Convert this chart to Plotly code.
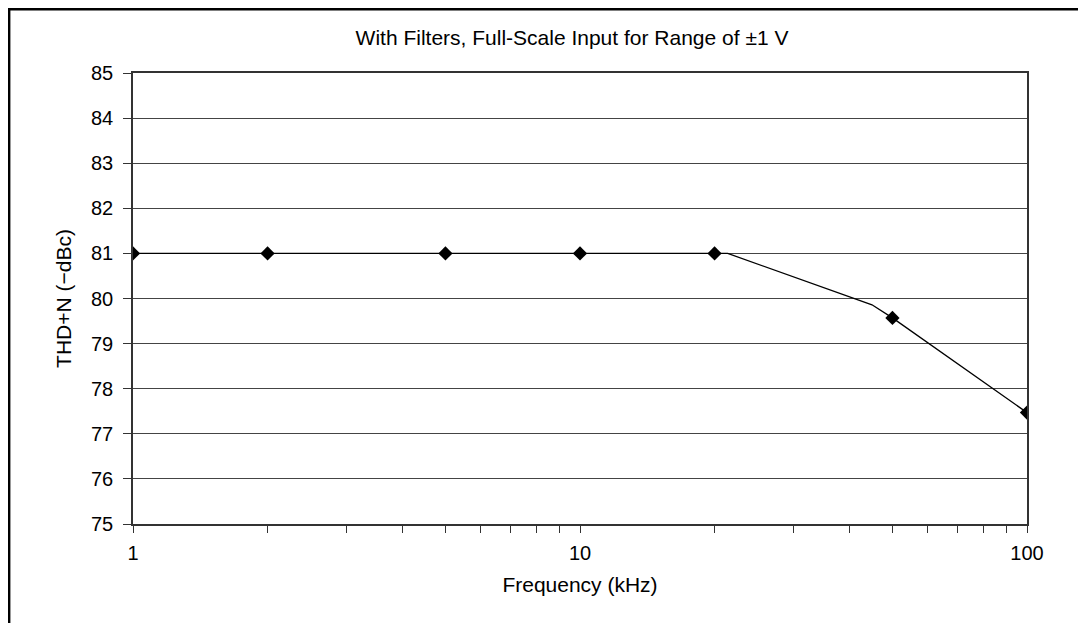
import plotly.graph_objects as go

# Measured points (markers)
freq_khz = [1, 2, 5, 10, 20, 50, 100]
thd_n = [81.0, 81.0, 81.0, 81.0, 81.0, 79.57, 77.47]

# Line as drawn in the reference (includes the bends between markers)
curve_freq = [1, 2, 5, 10, 20, 21.4, 45, 50, 100]
curve_thd = [81.0, 81.0, 81.0, 81.0, 81.0, 81.0, 79.86, 79.57, 77.47]

x_tickvals = [1, 2, 3, 4, 5, 6, 7, 8, 9, 10, 20, 30, 40, 50, 60, 70, 80, 90, 100]
x_ticktext = ["1", "", "", "", "", "", "", "", "", "10", "", "", "", "", "", "", "", "", "100"]
y_tickvals = [75, 76, 77, 78, 79, 80, 81, 82, 83, 84, 85]

title_text = "With Filters, Full-Scale Input for Range of \u00b11 V"
x_title = "Frequency (kHz)"
y_title = "THD+N (\u2212dBc)"

FONT = "Liberation Sans, Arial, Helvetica, sans-serif"

# page body has an 8px margin; work in page pixels and subtract it
OFF = 8
PAGE_W, PAGE_H = 1086, 623
W, H = PAGE_W - OFF, PAGE_H - OFF
L = 133 - OFF
T = 73 - OFF
R = W - (1027 - OFF)
B = H - (524 - OFF)
pw, ph = W - L - R, H - T - B

def fx(xfig):
    return (xfig - L) / pw

def fy(yfig):
    return (H - B - yfig) / ph

fig = go.Figure()
fig.add_trace(go.Scatter(
    x=curve_freq, y=curve_thd, mode="lines",
    line=dict(color="black", width=1.3), hoverinfo="skip", showlegend=False,
))
fig.add_trace(go.Scatter(
    x=freq_khz, y=thd_n, mode="markers",
    marker=dict(symbol="diamond", size=11, color="black"), showlegend=False,
))

# outer frame (bottom edge is cut off in the reference); figure-pixel coords
frame_left, frame_top, frame_right = 1.2, 1.2, 1075
for x0, y0, x1, y1 in [(frame_left, 0, frame_left, H + 5),
                       (0, frame_top, frame_right + 1, frame_top),
                       (frame_right, 0, frame_right, H + 5)]:
    fig.add_shape(type="line", xref="paper", yref="paper",
                  x0=fx(x0), y0=fy(y0), x1=fx(x1), y1=fy(y1),
                  line=dict(color="black", width=2.4), layer="above")

fig.update_layout(
    width=W, height=H,
    margin=dict(l=L, r=R, t=T, b=B),
    paper_bgcolor="white", plot_bgcolor="white",
    font=dict(family=FONT, size=20, color="black"),
    title=dict(text=title_text, x=fx(572 - OFF), xref="paper", xanchor="center",
               y=1 - (38 - OFF) / H, yref="container", yanchor="middle",
               font=dict(size=21)),
    showlegend=False,
)
fig.update_xaxes(
    type="log", range=[0, 2],
    tickvals=x_tickvals, ticktext=x_ticktext,
    ticks="outside", ticklen=7, tickwidth=1, tickcolor="#333",
    tickfont=dict(size=20),
    showline=True, linecolor="#333", linewidth=1.5, mirror=True,
    showgrid=False, zeroline=False,
    title=dict(text=x_title, standoff=15, font=dict(size=21)),
    ticklabelstandoff=3,
)
fig.update_yaxes(
    range=[75, 85], tickvals=y_tickvals,
    ticks="outside", ticklen=8, tickwidth=1, tickcolor="#333",
    tickfont=dict(size=20),
    showline=True, linecolor="#333", linewidth=1.5, mirror=True,
    showgrid=True, gridcolor="#444", gridwidth=1,
    zeroline=False,
    title=dict(text=y_title, standoff=14, font=dict(size=21)),
    ticklabelstandoff=6,
)

fig.write_html("out.html")
